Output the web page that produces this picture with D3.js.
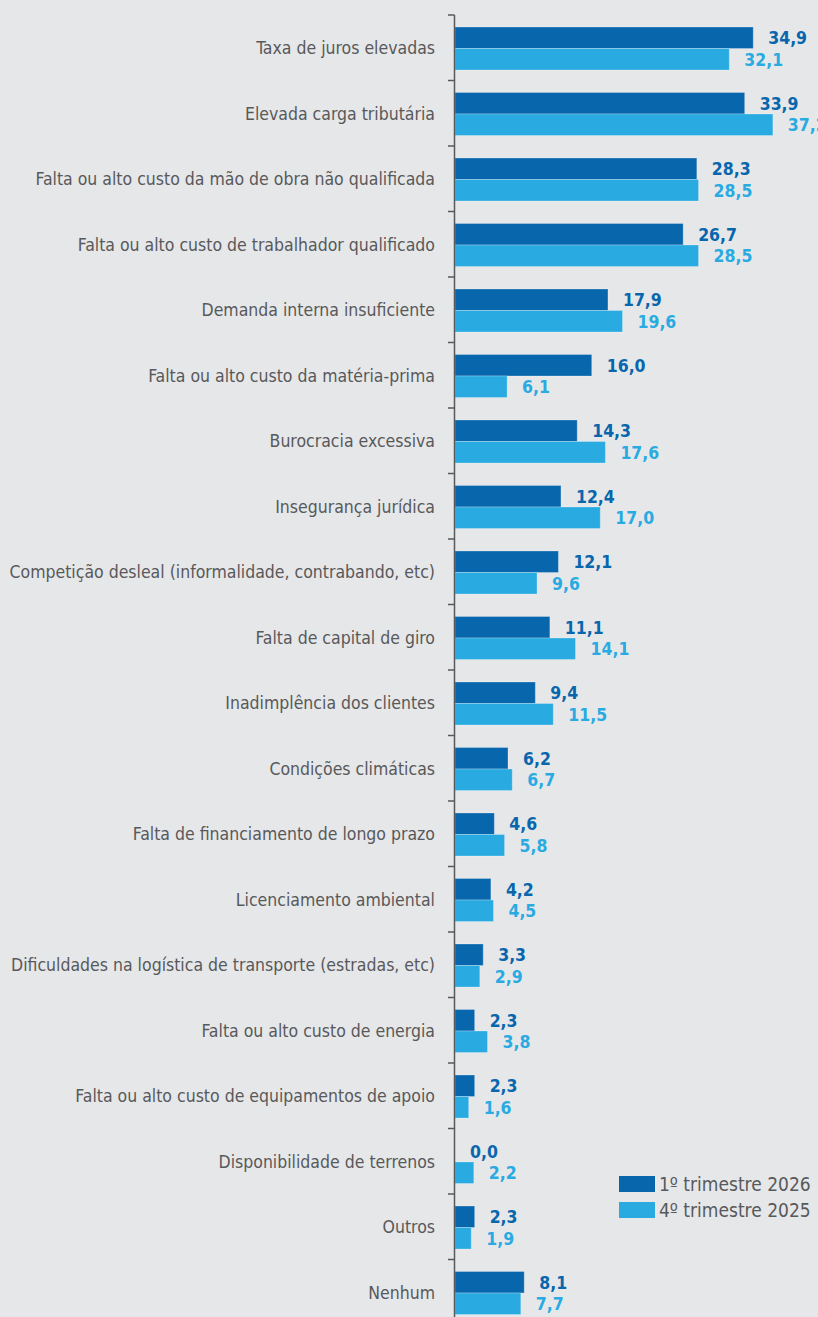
<!DOCTYPE html>
<html>
<head>
<meta charset="utf-8">
<script src="https://cdn.jsdelivr.net/npm/d3@7"></script>
<style>
  html, body { margin: 0; padding: 0; background: #e6e7e9; }
  svg { display: block; }
  .cat { font-family: "Liberation Sans Narrow", "DejaVu Sans Condensed", Roboto, sans-serif; font-stretch: condensed; fill: #58595b; }
  .val { font-family: "Liberation Sans Narrow", "DejaVu Sans Condensed", Roboto, sans-serif; font-stretch: condensed; font-weight: bold; }
</style>
</head>
<body>
<div id="chart"></div>
<script>
// categories, top to bottom
var categories = [
    "Taxa de juros elevadas",
    "Elevada carga tributária",
    "Falta ou alto custo da mão de obra não qualificada",
    "Falta ou alto custo de trabalhador qualificado",
    "Demanda interna insuficiente",
    "Falta ou alto custo da matéria-prima",
    "Burocracia excessiva",
    "Insegurança jurídica",
    "Competição desleal (informalidade, contrabando, etc)",
    "Falta de capital de giro",
    "Inadimplência dos clientes",
    "Condições climáticas",
    "Falta de financiamento de longo prazo",
    "Licenciamento ambiental",
    "Dificuldades na logística de transporte (estradas, etc)",
    "Falta ou alto custo de energia",
    "Falta ou alto custo de equipamentos de apoio",
    "Disponibilidade de terrenos",
    "Outros",
    "Nenhum"
];

var q1_2026 = [34.9, 33.9, 28.3, 26.7, 17.9, 16.0, 14.3, 12.4, 12.1, 11.1, 9.4, 6.2, 4.6, 4.2, 3.3, 2.3, 2.3, 0.0, 2.3, 8.1];
var q4_2025 = [32.1, 37.2, 28.5, 28.5, 19.6, 6.1, 17.6, 17.0, 9.6, 14.1, 11.5, 6.7, 5.8, 4.5, 2.9, 3.8, 1.6, 2.2, 1.9, 7.7];

var seriesNames = ["1º trimestre 2026", "4º trimestre 2025"];
var colors = ["#0866ad", "#29abe2"];

function init() {
    var w = 818;
    var h = 1317;
    var x0 = 455;

    var svg = d3.select("#chart")
                .append("svg")
                .attr("width", w)
                .attr("height", h);

    var x = d3.scaleLinear()
              .domain([0, 40])
              .range([x0, x0 + 341.8]);

    var y = d3.scaleBand()
              .domain(categories)
              .range([15, 15 + 65.5 * categories.length])
              .paddingInner(0)
              .paddingOuter(0);

    var barH = 21.5;
    var fmt = function(v) { return v.toFixed(1).replace(".", ","); };

    var rows = categories.map(function(c, i) {
        return { cat: c, vals: [q1_2026[i], q4_2025[i]] };
    });

    var g = svg.selectAll("g.row")
               .data(rows)
               .enter()
               .append("g")
               .attr("class", "row")
               .attr("transform", function(d) { return "translate(0," + y(d.cat) + ")"; });

    // bars
    g.selectAll("rect")
     .data(function(d) { return d.vals; })
     .enter()
     .append("rect")
     .attr("x", x0)
     .attr("y", function(d, i) { return 12 + i * barH; })
     .attr("width", function(d) { return x(d) - x0; })
     .attr("height", barH)
     .style("fill", function(d, i) { return colors[i]; })
     .style("stroke", "rgba(255,255,255,0.25)")
     .style("stroke-width", 1);

    // value labels
    g.selectAll("text.val")
     .data(function(d) { return d.vals; })
     .enter()
     .append("text")
     .attr("class", "val")
     .attr("x", function(d) { return x(d) + 15; })
     .attr("y", function(d, i) { return 12 + i * barH + barH / 2; })
     .attr("dy", "0.36em")
     .style("font-size", "17.5px")
     .style("fill", function(d, i) { return colors[i]; })
     .text(fmt);

    // category labels
    g.append("text")
     .attr("class", "cat")
     .attr("x", 435)
     .attr("y", y.bandwidth() / 2)
     .attr("dy", "0.36em")
     .attr("text-anchor", "end")
     .style("font-size", "17.5px")
     .text(function(d) { return d.cat; });

    // axis line with ticks at band edges
    var edges = categories.map(function(c) { return y(c); });
    svg.append("line")
       .attr("x1", x0 - 0.5).attr("x2", x0 - 0.5)
       .attr("y1", 15).attr("y2", h)
       .style("stroke", "#58595b")
       .style("stroke-width", 1.5);

    svg.selectAll("line.tick")
       .data(edges)
       .enter()
       .append("line")
       .attr("class", "tick")
       .attr("x1", x0 - 7).attr("x2", x0 - 0.5)
       .attr("y1", function(d) { return d; })
       .attr("y2", function(d) { return d; })
       .style("stroke", "#58595b")
       .style("stroke-width", 1.5);

    // legend
    var leg = svg.selectAll("g.legend")
                 .data(seriesNames)
                 .enter()
                 .append("g")
                 .attr("class", "legend")
                 .attr("transform", function(d, i) { return "translate(619," + (1176 + i * 26) + ")"; });

    leg.append("rect")
       .attr("width", 36)
       .attr("height", 16)
       .style("fill", function(d, i) { return colors[i]; });

    leg.append("text")
       .attr("class", "cat")
       .attr("x", 40)
       .attr("y", 8)
       .attr("dy", "0.36em")
       .style("font-size", "19px")
       .text(function(d) { return d; });
}

window.onload = init;
</script>
</body>
</html>
